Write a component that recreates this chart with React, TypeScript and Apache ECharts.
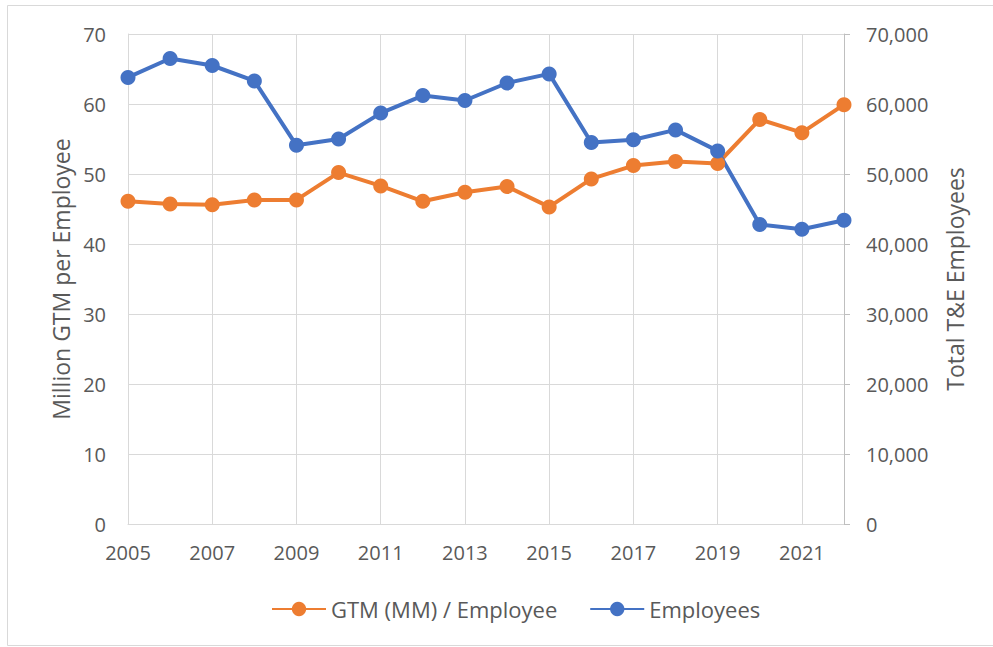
import React, { useEffect, useRef } from "react";
import * as echarts from "echarts";

const years = ["2005","2006","2007","2008","2009","2010","2011","2012","2013","2014","2015","2016","2017","2018","2019","2020","2021","2022"];
const gtmPerEmployee = [46.1, 45.7, 45.6, 46.3, 46.3, 50.2, 48.3, 46.1, 47.4, 48.2, 45.3, 49.3, 51.2, 51.8, 51.5, 57.8, 55.9, 59.9];
const employees = [63800, 66500, 65500, 63300, 54100, 55000, 58700, 61200, 60500, 63000, 64300, 54500, 54900, 56300, 53300, 42800, 42100, 43400];

const FONT = "Open Sans";
const TXT = "#595959";
const GRID = "#D9D9D9";

export default function App() {
  const ref = useRef<HTMLDivElement>(null);
  useEffect(() => {
    document.body.style.margin = "0";
    const chart = echarts.init(ref.current!, null, { renderer: "svg" });
    chart.setOption({
      animation: false,
      backgroundColor: "#ffffff",
      textStyle: { fontFamily: FONT },
      graphic: [
        {
          type: "rect",
          shape: { x: 7.5, y: 5.5, width: 1000, height: 640 },
          style: { fill: "none", stroke: GRID, lineWidth: 1 },
          silent: true,
        },
      ],
      grid: { left: 128, top: 34, right: 149, bottom: 123, containLabel: false },
      legend: {
        left: 266,
        top: 593,
        itemWidth: 54,
        itemHeight: 18,
        itemGap: 32,
        textStyle: { fontSize: 22, color: TXT, fontFamily: FONT },
        data: ["GTM (MM) / Employee", "Employees"],
      },
      xAxis: {
        type: "category",
        data: years,
        boundaryGap: false,
        axisLine: { show: true, lineStyle: { color: GRID, width: 1 } },
        axisTick: { show: false },
        axisLabel: { interval: 1, color: TXT, fontSize: 20, fontFamily: FONT, margin: 18 },
        splitLine: { show: true, interval: 1, lineStyle: { color: GRID, width: 1 } },
      },
      yAxis: [
        {
          type: "value",
          min: 0,
          max: 70,
          interval: 10,
          position: "left",
          axisLine: { show: true, lineStyle: { color: GRID } },
          axisTick: { show: false },
          axisLabel: { color: TXT, fontSize: 20, fontFamily: FONT, margin: 22 },
          splitLine: { show: true, lineStyle: { color: GRID, width: 1 } },
          name: "Million GTM per Employee",
          nameLocation: "middle",
          nameGap: 55,
          nameTextStyle: { color: TXT, fontSize: 23, fontFamily: FONT },
        },
        {
          type: "value",
          min: 0,
          max: 70000,
          interval: 10000,
          position: "right",
          axisLine: { show: true, lineStyle: { color: "#BFBFBF" } },
          axisTick: { show: true, length: 6, lineStyle: { color: "#BFBFBF" } },
          axisLabel: {
            color: TXT,
            fontSize: 20,
            fontFamily: FONT,
            margin: 22,
            formatter: (v: number) => v.toLocaleString("en-US"),
          },
          splitLine: { show: false },
          name: "Total T&E Employees",
          nameLocation: "middle",
          nameGap: 99,
          nameRotate: 90,
          nameTextStyle: { color: TXT, fontSize: 23, fontFamily: FONT },
        },
      ],
      series: [
        {
          name: "GTM (MM) / Employee",
          type: "line",
          yAxisIndex: 0,
          data: gtmPerEmployee,
          symbol: "circle",
          symbolSize: 15,
          lineStyle: { color: "#ED7D31", width: 4 },
          itemStyle: { color: "#ED7D31" },
        },
        {
          name: "Employees",
          type: "line",
          yAxisIndex: 1,
          data: employees,
          symbol: "circle",
          symbolSize: 15,
          lineStyle: { color: "#4472C4", width: 4 },
          itemStyle: { color: "#4472C4" },
        },
      ],
    });
    return () => chart.dispose();
  }, []);
  return <div ref={ref} style={{ width: 993, height: 647 }} />;
}
